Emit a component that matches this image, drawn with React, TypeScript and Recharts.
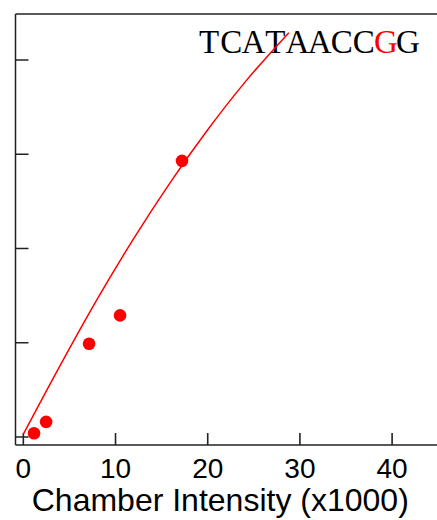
import { ComposedChart, Line, Scatter, XAxis, YAxis, ReferenceLine } from 'recharts'

// measured points (chamber intensity in thousands vs signal)
const pointX = [1.16, 2.47, 7.13, 10.49, 17.21]
const pointY = [0.04, 0.16, 0.99, 1.29, 2.93]

// fitted curve
const fitX = [0, 4, 8, 12, 16, 20, 24, 28.8]
const fitY = [0.03, 0.76, 1.46, 2.11, 2.71, 3.26, 3.76, 4.29]

const xTicks = [0, 10, 20, 30, 40]
const yTicks = [0, 1, 2, 3, 4]

const title = 'TCATAACCGG'
const redIndex = 8

const points = pointX.map((x, i) => ({ x, y: pointY[i] }))
const fit = fitX.map((x, i) => ({ x, y: fitY[i] }))

const xDomain = [-0.85, 44.87]
const yDomain = [-0.085, 4.488]
// inward tick length in y units (about 12px)
const xTickLen = 0.127

const axisColor = '#222'
const sans = 'Liberation Sans, Arial, sans-serif'

// x tick label only; marks come from reference segments
const XTick = (props: any) => {
    const { x, y, payload } = props
    return (
        <text x={x} y={y + 8} textAnchor="middle" fontSize={28} fontFamily={sans} fill="#000">
            {payload.value}
        </text>
    )
}

// y tick: inward mark only, no labels
const YTick = (props: any) => {
    const { x, y } = props
    return <path d={`M${x},${y}L${x + 13},${y}`} stroke={axisColor} strokeWidth={1.5} />
}

export default function App() {
    return (
        <>
            <style>{'body{margin:0}'}</style>
            <ComposedChart
                width={437}
                height={520}
                margin={{ top: 13, right: 0, bottom: 0, left: 14.5 }}
            >
                <XAxis
                    type="number"
                    dataKey="x"
                    domain={xDomain}
                    allowDataOverflow
                    ticks={xTicks}
                    interval={0}
                    height={75}
                    tickSize={0}
                    tickMargin={25}
                    tickLine={false}
                    stroke={axisColor}
                    strokeWidth={1.5}
                    tick={<XTick />}
                    label={{
                        value: 'Chamber Intensity (x1000)',
                        position: 'insideBottom',
                        offset: 9,
                        dx: -6,
                        fill: '#000',
                        fontSize: 32,
                        fontFamily: sans,
                    }}
                />
                <XAxis
                    xAxisId="top"
                    orientation="top"
                    type="number"
                    dataKey="x"
                    domain={xDomain}
                    allowDataOverflow
                    height={1}
                    tick={false}
                    tickLine={false}
                    stroke={axisColor}
                    strokeWidth={1.5}
                />
                <YAxis
                    type="number"
                    dataKey="y"
                    domain={yDomain}
                    allowDataOverflow
                    ticks={yTicks}
                    interval={0}
                    width={1}
                    tickSize={0}
                    tickMargin={0}
                    tickLine={false}
                    tick={<YTick />}
                    stroke={axisColor}
                    strokeWidth={1.5}
                />
                {xTicks.map((t) => (
                    <ReferenceLine
                        key={t}
                        segment={[
                            { x: t, y: yDomain[0] },
                            { x: t, y: yDomain[0] + xTickLen },
                        ]}
                        stroke={axisColor}
                        strokeWidth={1.6}
                        ifOverflow="visible"
                    />
                ))}
                <Line
                    data={fit}
                    dataKey="y"
                    type="monotone"
                    stroke="#ff0000"
                    strokeWidth={1.5}
                    dot={false}
                    isAnimationActive={false}
                />
                <Scatter
                    data={points}
                    dataKey="y"
                    fill="#ff0000"
                    isAnimationActive={false}
                    shape={(p: any) => <circle cx={p.cx} cy={p.cy} r={6.3} fill="#ff0000" />}
                />
                <text y={53} fontSize={33} fontFamily="Liberation Serif, DejaVu Serif, serif" textAnchor="middle">
                    {title.split('').map((c, i) => (
                        <tspan key={i} x={209.1 + i * 22.1} fill={i === redIndex ? '#ff0000' : '#000'}>
                            {c}
                        </tspan>
                    ))}
                </text>
            </ComposedChart>
        </>
    )
}
